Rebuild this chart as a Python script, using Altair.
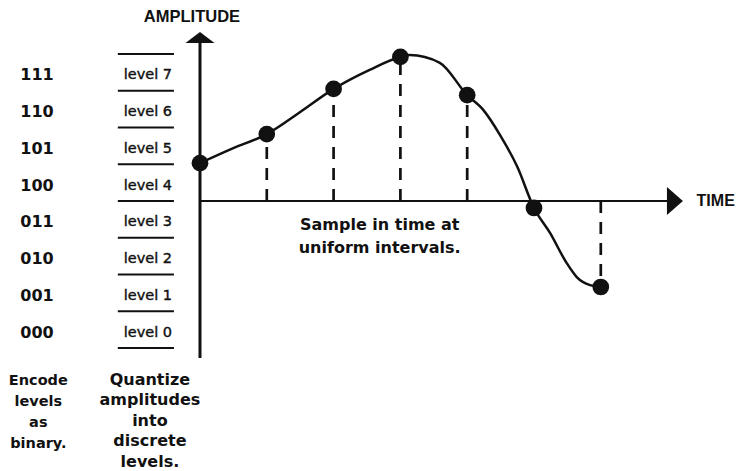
import altair as alt
import pandas as pd

# ---- data (time in sample intervals, amplitude in quantization-level units) ----
sample_t = [0, 1, 2, 3, 4, 5, 6]
sample_amp = [1.03, 1.82, 3.05, 3.92, 2.88, -0.19, -2.34]

# continuous signal
curve_t = [0, 0.49, 1, 1.5, 2, 2.54, 3, 3.14, 3.59, 4, 4.24, 4.49, 4.75, 5, 5.24, 5.49, 5.64, 5.84, 6]
curve_amp = [1.03, 1.43, 1.82, 2.42, 3.05, 3.57, 3.92, 3.97, 3.76, 2.88, 2.48, 1.80, 0.93,
             -0.19, -0.87, -1.69, -2.07, -2.29, -2.34]

level_index = [0, 1, 2, 3, 4, 5, 6, 7]
level_labels = ["level 0", "level 1", "level 2", "level 3", "level 4", "level 5", "level 6", "level 7"]
binary_codes = ["000", "001", "010", "011", "100", "101", "110", "111"]
level_bounds = [-4, -3, -2, -1, 0, 1, 2, 3, 4]

encode_text = "Encode\nlevels\nas\nbinary."
quantize_text = "Quantize\namplitudes\ninto\ndiscrete\nlevels."
sample_text = "Sample in time at\nuniform intervals."

FONT = "Liberation Sans"
WIDE = "DejaVu Sans"
X = alt.Scale(domain=[-2.874, 8.009], nice=False, zero=False)
Y = alt.Scale(domain=[-7.347, 5.252], nice=False, zero=False)


def xq(f):
    return alt.X(f, type="quantitative", scale=X, axis=None)


def yq(f):
    return alt.Y(f, type="quantitative", scale=Y, axis=None)


samples = pd.DataFrame({"t": sample_t, "amp": sample_amp, "zero": [0] * len(sample_t)})
curve = pd.DataFrame({"t": curve_t, "amp": curve_amp})
centers = pd.DataFrame({
    "a": [i - 3.5 for i in level_index],
    "label": level_labels,
    "code": binary_codes,
    "xl": [-0.78] * 8,
    "xb": [-2.44] * 8,
})
bounds = pd.DataFrame({"a": level_bounds, "x0": [-1.23] * 9, "x1": [-0.39] * 9})

# level separator lines
lev_lines = alt.Chart(bounds).mark_rule(color="#111", strokeWidth=2).encode(
    x=xq("x0"), x2="x1", y=yq("a"))

lev_text = alt.Chart(centers).mark_text(
    font=WIDE, fontSize=14.5, color="#111", stroke="#111",
    strokeWidth=0.4, baseline="middle", dy=3).encode(
    x=xq("xl"), y=yq("a"), text="label:N")

bin_text = alt.Chart(centers).mark_text(
    font=WIDE, fontSize=16, fontWeight="bold", color="#111",
    baseline="middle", dy=3).encode(
    x=xq("xb"), y=yq("a"), text="code:N")

# axes
vaxis = alt.Chart(pd.DataFrame({"t": [0], "a0": [-4.27], "a1": [4.30]})).mark_rule(
    color="#111", strokeWidth=3).encode(x=xq("t"), y=yq("a0"), y2="a1")
haxis = alt.Chart(pd.DataFrame({"t0": [0], "t1": [7.0], "a": [0]})).mark_rule(
    color="#111", strokeWidth=2).encode(x=xq("t0"), x2="t1", y=yq("a"))

varrow = alt.Chart(pd.DataFrame({"t": [0], "a": [4.45]})).mark_point(
    shape="M-1,0.38L0,-0.38L1,0.38Z", size=841, filled=True, color="#111", opacity=1
).encode(x=xq("t"), y=yq("a"))
harrow = alt.Chart(pd.DataFrame({"t": [7.11], "a": [0]})).mark_point(
    shape="M-0.57,-1L0.57,0L-0.57,1Z", size=784, filled=True, color="#111", opacity=1
).encode(x=xq("t"), y=yq("a"))

# dashed sample lines
dashes = alt.Chart(samples[samples.t > 0]).mark_rule(
    color="#111", strokeWidth=2.7, strokeDash=[12, 9]).encode(
    x=xq("t"), y=yq("zero"), y2="amp")

line = alt.Chart(curve).mark_line(
    color="#111", strokeWidth=2.5, interpolate="monotone").encode(
    x=xq("t"), y=yq("amp"), order="t:Q")

dots = alt.Chart(samples).mark_circle(size=280, color="#111", opacity=1).encode(
    x=xq("t"), y=yq("amp"))

# text annotations
amp_title = alt.Chart(pd.DataFrame({"t": [-0.12], "a": [5.02], "txt": ["AMPLITUDE"]})).mark_text(
    font=FONT, fontSize=16.5, fontWeight="bold", color="#111", baseline="middle"
).encode(x=xq("t"), y=yq("a"), text="txt:N")

time_title = alt.Chart(pd.DataFrame({"t": [7.72], "a": [0.0], "txt": ["TIME"]})).mark_text(
    font=FONT, fontSize=16, fontWeight="bold", color="#111", baseline="middle"
).encode(x=xq("t"), y=yq("a"), text="txt:N")

sample_note = alt.Chart(pd.DataFrame({"t": [2.69], "a": [-0.79], "txt": [sample_text]})).mark_text(
    font=WIDE, fontSize=16, fontWeight="bold", color="#111",
    baseline="alphabetic", lineBreak="\n", lineHeight=23).encode(
    x=xq("t"), y=yq("a"), text="txt:N")

encode_note = alt.Chart(pd.DataFrame({"t": [-2.42], "a": [-5.0], "txt": [encode_text]})).mark_text(
    font=WIDE, fontSize=14.5, fontWeight="bold", color="#111",
    baseline="alphabetic", lineBreak="\n", lineHeight=21).encode(
    x=xq("t"), y=yq("a"), text="txt:N")

quant_note = alt.Chart(pd.DataFrame({"t": [-0.75], "a": [-5.0], "txt": [quantize_text]})).mark_text(
    font=WIDE, fontSize=16, fontWeight="bold", color="#111",
    baseline="alphabetic", lineBreak="\n", lineHeight=20.5).encode(
    x=xq("t"), y=yq("a"), text="txt:N")

chart = alt.layer(
    lev_lines, lev_text, bin_text, vaxis, haxis, varrow, harrow, dashes, line, dots,
    amp_title, time_title, sample_note, encode_note, quant_note
).properties(
    width=727, height=463, padding=0, autosize=alt.AutoSizeParams(type="none"),
    background="white"
).configure_view(stroke=None)

chart.save("out.html", embed_options={"renderer": "svg", "actions": False})
